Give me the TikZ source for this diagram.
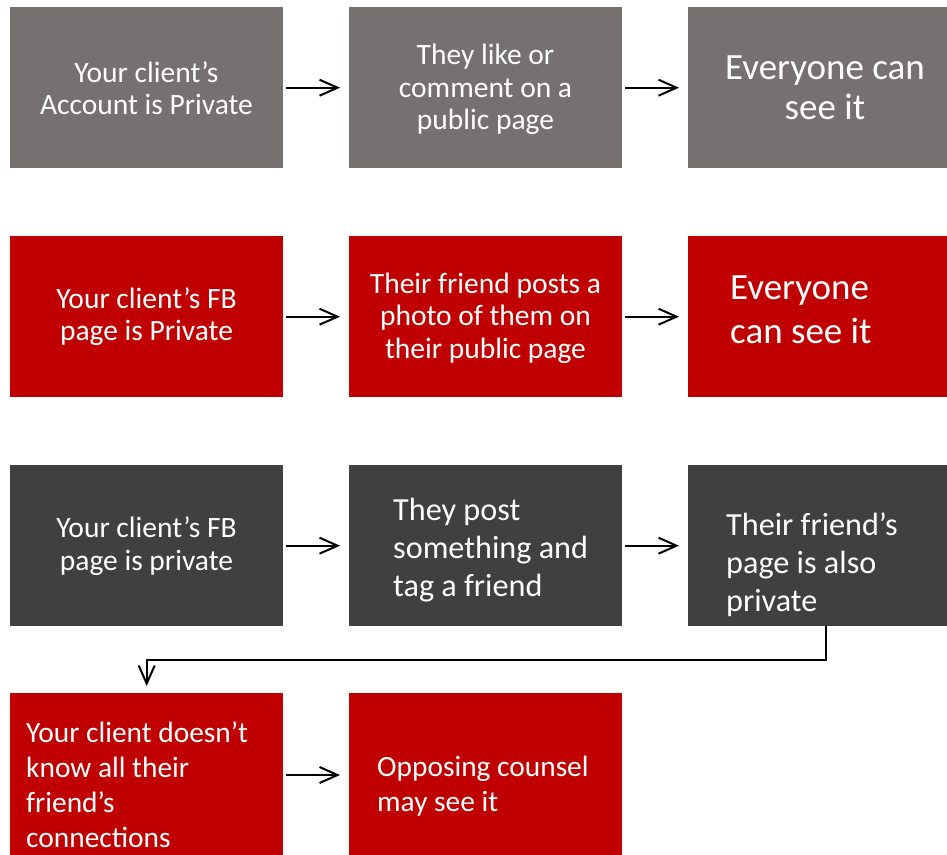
\documentclass[tikz,border=0pt]{standalone}
\usepackage{fontspec}
\setmainfont{Carlito}
\usetikzlibrary{arrows.meta,calc}
\definecolor{boxgray}{HTML}{757170}
\definecolor{boxred}{HTML}{C00000}
\definecolor{boxdark}{HTML}{404040}
\tikzset{
  box/.style={draw=none,rectangle,minimum width=273pt,minimum height=161pt,inner sep=0pt,anchor=north west},
  txt/.style={text=white,inner sep=0pt},
  conn/.style={draw=black,line width=2pt,-{Straight Barb[length=18pt,width=16pt,line width=2pt]}},
}
\newcommand{\fsA}{\fontsize{29.5}{32.5}\selectfont}
\newcommand{\fsB}{\fontsize{37}{40}\selectfont}
\newcommand{\fsC}{\fontsize{37}{44}\selectfont}
\newcommand{\fsD}{\fontsize{32.2}{38}\selectfont}
\newcommand{\fsE}{\fontsize{29.4}{35}\selectfont}
\begin{document}
\begin{tikzpicture}[x=1pt,y=-1pt]
\useasboundingbox (0,0) rectangle (947,854);
\clip (0,0) rectangle (947,854);
% boxes
\node[box,fill=boxgray] (b11) at (10,7) {};
\node[box,fill=boxgray] (b12) at (349,7) {};
\node[box,fill=boxgray] (b13) at (688,7) {};
\node[box,fill=boxred] (b21) at (10,236) {};
\node[box,fill=boxred] (b22) at (349,236) {};
\node[box,fill=boxred] (b23) at (688,236) {};
\node[box,fill=boxdark] (b31) at (10,465) {};
\node[box,fill=boxdark] (b32) at (349,465) {};
\node[box,fill=boxdark] (b33) at (688,465) {};
\node[box,fill=boxred,minimum height=190pt] (b41) at (10,693) {};
\node[box,fill=boxred,minimum height=190pt] (b42) at (349,693) {};
% texts
\node[txt,align=center,font=\fsA] (t11) at (146.5,88) {Your client’s\\Account is Private};
\node[txt,align=center,font=\fsA] (t12) at (485.5,89.5) {They like or\\comment on a\\public page};
\node[txt,align=center,font=\fsB] (t13) at (825,87.5) {Everyone can\\see it};
\node[txt,align=center,font=\fsA] (t21) at (146.5,316.5) {Your client’s FB\\page is Private};
\node[txt,align=center,font=\fsA] (t22) at (485.5,318) {Their friend posts a\\photo of them on\\their public page};
\node[txt,align=left,font=\fsC,anchor=west] (t23) at (730,309.5) {Everyone\\can see it};
\node[txt,align=center,font=\fsA] (t31) at (146.5,546) {Your client’s FB\\page is private};
\node[txt,align=left,font=\fsD,anchor=west] (t32) at (393,550) {They post\\something and\\tag a friend};
\node[txt,align=left,font=\fsD,anchor=west] (t33) at (726,565) {Their friend’s\\page is also\\private};
\node[txt,align=left,font=\fsE,anchor=west] (t41) at (26,785) {Your client doesn’t\\know all their\\friend’s\\connections};
\node[txt,align=left,font=\fsE,anchor=west] (t42) at (377,786) {Opposing counsel\\may see it};
% connectors
\coordinate (elb) at (826,660);
\foreach \r in {1,2,3}{
  \draw[conn,shorten <=3pt,shorten >=9pt] (b\r1.east |- b\r1.center) -- (b\r2.west |- b\r1.center);
  \draw[conn,shorten <=3pt,shorten >=9pt] (b\r2.east |- b\r2.center) -- (b\r3.west |- b\r2.center);
}
\draw[conn,shorten <=3pt,shorten >=9pt] ($(b41.north east)+(0,82)$) -- ($(b42.north west)+(0,82)$);
\draw[conn,shorten >=7pt] (b33.south -| elb) -- (elb) -| (b41.north);
\end{tikzpicture}
\end{document}
